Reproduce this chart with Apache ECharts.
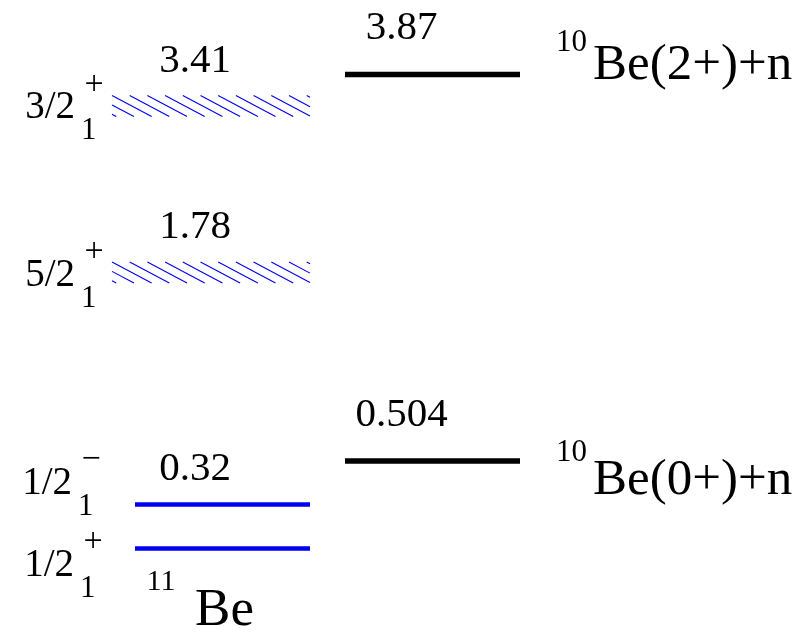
<!DOCTYPE html>
<html>
<head>
<meta charset="utf-8">
<script src="https://cdn.jsdelivr.net/npm/echarts@6/dist/echarts.min.js"></script>
<style>
  html, body { margin: 0; padding: 0; background: #fff; }
  #chart { width: 809px; height: 639px; }
</style>
</head>
<body>
<div id="chart"></div>
<script>
// Level scheme of 11Be with the 10Be + n thresholds (energies in MeV)
const columns = ['11Be', '10Be+n'];

const be11Energy = [0, 0.32, 1.78, 3.41];
const be11EnergyText = ['', '0.32', '1.78', '3.41'];
const be11Spin = ['1/2', '1/2', '5/2', '3/2'];
const be11SpinIndex = ['1', '1', '1', '1'];
const be11Parity = ['+', '\u2212', '+', '+'];
const be11Resonance = [false, false, true, true];

const thresholdEnergy = [0.504, 3.87];
const thresholdText = ['0.504', '3.87'];
const thresholdMass = ['10', '10'];
const thresholdChannel = ['Be(0+)+n', 'Be(2+)+n'];

const nucleusMass = '11';
const nucleusSymbol = 'Be';

// ---- presentation ----
const FONT = 'Liberation Serif';
const BLUE = '#0000f0';
const HALF = 87.5;            // half length of a level line, px
// per-level nudges of the spin label block [dx, dy] and of the energy label dy
const spinShift = [[-1, 17], [-3, -21], [0, 3], [0, 2]];
const be11LabelDy = [0, -35, -45.5, -45];
// threshold channel labels: [dy of symbol, dy of mass number]
const channelShift = [[20, -8], [-8.5, -32]];

const measureCtx = document.createElement('canvas').getContext('2d');
function textWidth(s, size) {
  measureCtx.font = size + 'px "' + FONT + '"';
  return measureCtx.measureText(s).width;
}

// text anchored at (x, y): y is the vertical middle, align picks the horizontal anchor
function txt(x, y, s, size, align) {
  const w = textWidth(s, size);
  const left = align === 'right' ? x - w : (align === 'left' ? x : x - w / 2);
  return {
    type: 'text', x: left, y: y - size / 2,
    style: { text: s, fontSize: size, fontFamily: FONT, fontWeight: 'normal', fontStyle: 'normal', fill: '#000' }
  };
}

function hatch(x0, x1, yc, half) {
  const yT = yc - half, h = 2 * half, slope = 0.53, step = 17.7, run = h / slope;
  const kids = [];
  for (let sx = x0 - Math.ceil(run / step) * step; sx < x1; sx += step) {
    const a = Math.max(sx, x0), b = Math.min(sx + run, x1);
    if (b > a) {
      kids.push({
        type: 'line',
        shape: { x1: a, y1: yT + slope * (a - sx), x2: b, y2: yT + slope * (b - sx) },
        style: { stroke: BLUE, lineWidth: 1.1 }
      });
    }
  }
  return kids;
}

// level marks
function renderBe11(params, api) {
  const i = params.dataIndex;
  const p = api.coord([api.value(0), api.value(1)]);
  const cx = p[0], y = p[1];
  if (be11Resonance[i]) {
    return { type: 'group', children: hatch(cx - HALF - 23, cx + HALF, y, 10.5) };
  }
  return {
    type: 'line',
    shape: { x1: cx - HALF, y1: y, x2: cx + HALF, y2: y },
    style: { stroke: BLUE, lineWidth: 4.5 }
  };
}

function renderThreshold(params, api) {
  const p = api.coord([api.value(0), api.value(1)]);
  const cx = p[0], y = p[1];
  return {
    type: 'line',
    shape: { x1: cx - HALF, y1: y, x2: cx + HALF, y2: y },
    style: { stroke: '#000', lineWidth: 5.5 }
  };
}

// one text per data item, placed relative to the level it belongs to
function textSeries(seriesData, place) {
  return {
    type: 'custom',
    data: seriesData,
    renderItem: function (params, api) {
      const p = api.coord([api.value(0), api.value(1)]);
      const t = place(params.dataIndex, p[0], p[1]);
      return t ? txt(t[0], t[1], t[2], t[3], t[4]) : null;
    }
  };
}

const be11Data = be11Energy.map(function (e) { return [0, e]; });
const thresholdData = thresholdEnergy.map(function (e) { return [1, e]; });
const nucleusData = [[0, be11Energy[0]]];

function draw() {
  const chart = echarts.init(document.getElementById('chart'));
  chart.setOption({
    animation: false,
    backgroundColor: '#fff',
    grid: { left: 117.5, right: 271.5, top: 43.8, bottom: 19.6, outerBoundsMode: 'none' },
    xAxis: { type: 'category', data: columns, show: false },
    yAxis: {
      type: 'value', min: -0.3, max: 4.0, show: false,
      // schematic spacing: compress the gaps between the levels
      breaks: [
        { start: 0.06, end: 0.26, gap: 0.0661 },
        { start: 0.7, end: 1.6, gap: 0.4214 },
        { start: 2.0, end: 3.2, gap: 0.2743 },
        { start: 3.45, end: 3.85, gap: 0.0732 }
      ],
      breakArea: { show: false }
    },
    series: [
      { type: 'custom', data: be11Data, renderItem: renderBe11 },
      { type: 'custom', data: thresholdData, renderItem: renderThreshold },
      textSeries(be11Data, function (i, cx, y) {
        return be11EnergyText[i] ? [cx - 27.5, y + be11LabelDy[i], be11EnergyText[i], 41] : null;
      }),
      textSeries(be11Data, function (i, cx, y) {
        return [cx - 147.5 + spinShift[i][0], y + spinShift[i][1], be11Spin[i], 39, 'right'];
      }),
      textSeries(be11Data, function (i, cx, y) {
        return [cx - 141.5 + spinShift[i][0], y + spinShift[i][1] + 23, be11SpinIndex[i], 31, 'left'];
      }),
      textSeries(be11Data, function (i, cx, y) {
        return [cx - 128.5 + spinShift[i][0], y + spinShift[i][1] - 23, be11Parity[i], 34];
      }),
      textSeries(thresholdData, function (i, cx, y) {
        return [cx - 31, y - 46, thresholdText[i], 41];
      }),
      textSeries(thresholdData, function (i, cx, y) {
        return [cx + 123.5, y + channelShift[i][1], thresholdMass[i], 31, 'left'];
      }),
      textSeries(thresholdData, function (i, cx, y) {
        return [cx + 160.5, y + channelShift[i][0], thresholdChannel[i], 51, 'left'];
      }),
      textSeries(nucleusData, function (i, cx, y) {
        return [cx - 61.5, y + 33.5, nucleusMass, 30];
      }),
      textSeries(nucleusData, function (i, cx, y) {
        return [cx + 2, y + 63, nucleusSymbol, 53];
      })
    ]
  });
}

// the serif face has to be ready before the canvas text is painted
if (document.fonts && document.fonts.load) {
  document.fonts.load('40px "' + FONT + '"', 'Be0123456789').then(draw, draw);
} else {
  draw();
}
</script>
</body>
</html>
